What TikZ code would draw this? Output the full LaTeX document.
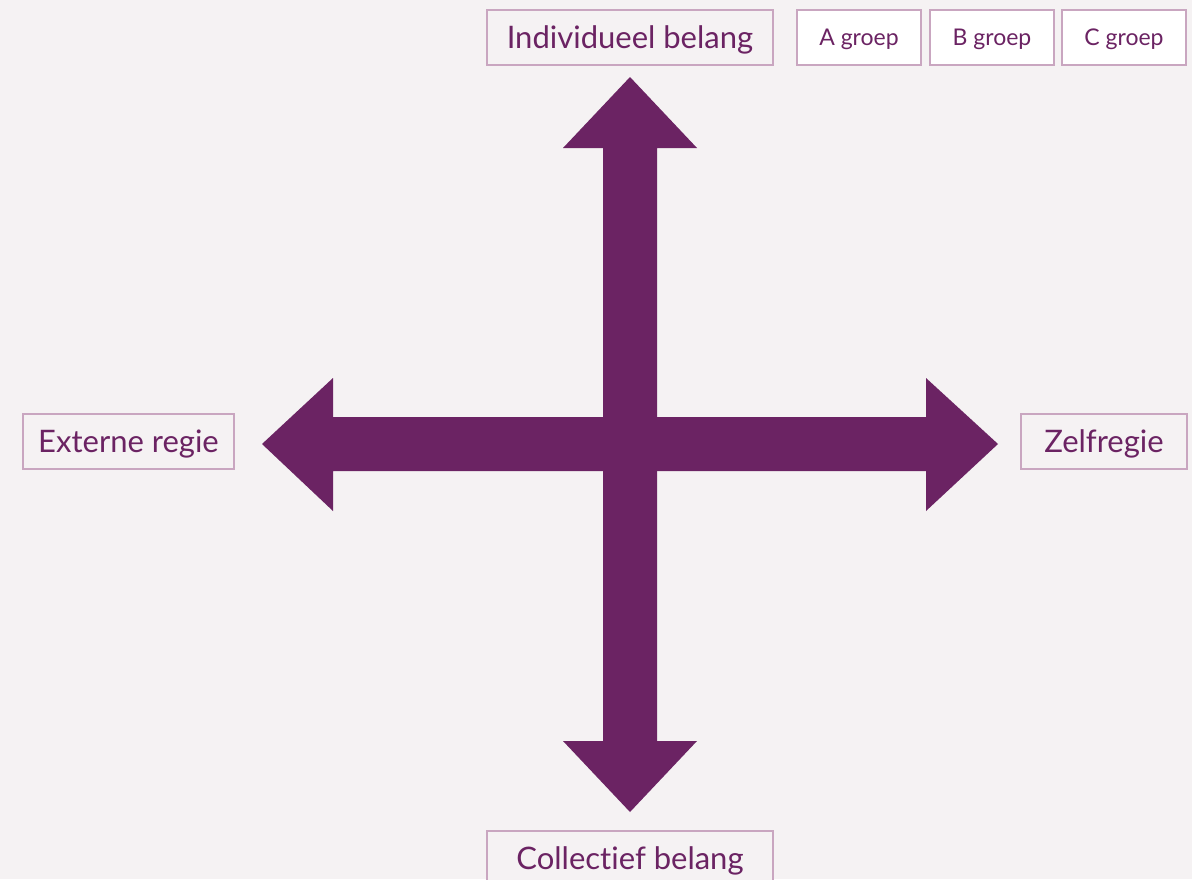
\documentclass[tikz,border=0pt]{standalone}
\usepackage{fontspec}
\setmainfont{Lato}[Ligatures=NoCommon]
\definecolor{bgc}{HTML}{F5F2F3}
\definecolor{plum}{HTML}{6B2363}
\definecolor{edge}{HTML}{C9A6C0}
\tikzset{
  lab/.style={draw=edge, line width=1.2pt, fill=bgc, text=plum, inner sep=0pt, text height=24pt, text depth=3pt, font=\fontsize{31}{35}\selectfont},
  grp/.style={draw=edge, line width=1.2pt, fill=white, text=plum, inner sep=0pt, text height=18pt, text depth=3pt, font=\fontsize{23}{27}\selectfont},
  arr/.style={fill=plum, draw=none}
}
\begin{document}
\begin{tikzpicture}[x=1pt,y=-1pt]
\fill[bgc] (0,0) rectangle (1192,879);
\path[use as bounding box] (0,0) rectangle (1192,879);
% boxes
\node[lab, minimum width=286pt, minimum height=55pt] (top) at (630,37.5) {Individueel belang};
\node[grp, minimum width=124pt, minimum height=55pt] (ga) at (859,37.5) {A groep};
\node[grp, minimum width=124pt, minimum height=55pt] (gb) at (992,37.5) {B groep};
\node[grp, minimum width=124pt, minimum height=55pt] (gc) at (1124,37.5) {C groep};
\node[lab, minimum width=211pt, minimum height=55pt] (left) at (128.5,441.5) {Externe regie};
\node[lab, minimum width=166pt, minimum height=55pt] (right) at (1104,441.5) {Zelfregie};
\node[lab, minimum width=286pt, minimum height=55pt] (bot) at (630,858.5) {Collectief belang};
% arrows
\fill[arr] (630,77) -- (697,148) -- (657,148) -- (657,741) -- (697,741) -- (630,812) -- (563,741) -- (603,741) -- (603,148) -- (563,148) -- cycle;
\fill[arr] (262,444) -- (333,378) -- (333,417) -- (926,417) -- (926,378) -- (998,444) -- (926,511) -- (926,471) -- (333,471) -- (333,511) -- cycle;
\end{tikzpicture}
\end{document}
